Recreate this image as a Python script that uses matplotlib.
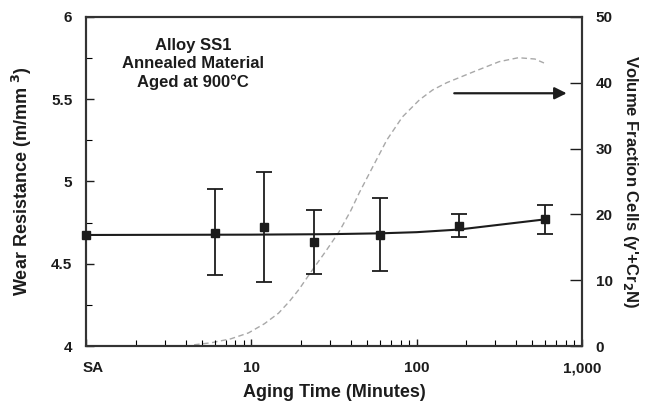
import matplotlib
matplotlib.use("Agg")
import matplotlib.pyplot as plt
import matplotlib.transforms as mtransforms
from matplotlib.ticker import FixedLocator, LogLocator, NullFormatter

plt.rcParams["font.family"] = ["Liberation Sans", "DejaVu Sans"]
plt.rcParams["font.weight"] = "bold"

INK = "#1c1c1c"

# wear resistance measurements (aging time in minutes, SA plotted at 1)
wear_time = [1, 6, 12, 24, 60, 180, 600]
wear_mean = [4.675, 4.69, 4.725, 4.63, 4.675, 4.73, 4.77]
wear_low = [4.675, 4.43, 4.39, 4.44, 4.455, 4.66, 4.68]
wear_high = [4.675, 4.955, 5.06, 4.825, 4.90, 4.80, 4.86]

# fitted trend through the wear data
fit_time = [1, 10, 30, 60, 100, 180, 600]
fit_val = [4.675, 4.677, 4.680, 4.685, 4.692, 4.708, 4.77]

# volume fraction of cells, right axis
vf_time = [4.5, 5.7, 7.5, 9.6, 12, 14.6, 17, 19.4, 23, 28, 34, 40, 45, 55, 66, 82,
           104, 125, 152, 218, 316, 413, 520, 590]
vf_val = [0.2, 0.5, 1.1, 2.0, 3.4, 5.0, 6.8, 8.6, 11.3, 14.3, 17.4, 20.6, 23.3, 27.5,
          31.3, 34.8, 37.4, 38.9, 40.0, 41.6, 43.2, 43.8, 43.6, 43.0]

x_ticks = [1, 10, 100, 1000]
x_labels = ["SA", "10", "100", "1,000"]
left_ticks = [4, 4.5, 5, 5.5, 6]
left_labels = ["4", "4.5", "5", "5.5", "6"]
right_ticks = [0, 10, 20, 30, 40, 50]

fig = plt.figure(figsize=(6.53, 4.12), dpi=100)
ax = fig.add_axes([0.132, 0.160, 0.759, 0.799])
ax2 = ax.twinx()

ax.set_xscale("log")
ax.set_xlim(1, 1000)
ax.set_ylim(4, 6)
ax2.set_ylim(0, 50)

ax2.plot(vf_time, vf_val, color="#a8a8a8", lw=1.0, dashes=(4, 2.5))

ax.plot(fit_time, fit_val, color=INK, lw=1.5, zorder=3)
err_lo = [m - l for m, l in zip(wear_mean[1:], wear_low[1:])]
err_hi = [h - m for m, h in zip(wear_mean[1:], wear_high[1:])]
ax.errorbar(wear_time[1:], wear_mean[1:], yerr=[err_lo, err_hi], fmt="s", color=INK,
            ms=6, capsize=6, elinewidth=1.3, capthick=1.3, zorder=4)
ax.plot(wear_time[:1], wear_mean[:1], "s", color=INK, ms=6, zorder=5, clip_on=False)
ax.set_zorder(ax2.get_zorder() + 1)
ax.patch.set_visible(False)

ax.set_xticks(x_ticks)
ax.set_xticklabels(x_labels)
ax.xaxis.set_minor_locator(LogLocator(base=10, subs=range(2, 10)))
ax.xaxis.set_minor_formatter(NullFormatter())
ax.set_yticks(left_ticks)
ax.set_yticklabels(left_labels)
ax.yaxis.set_minor_locator(FixedLocator([4.25, 4.75, 5.25, 5.75]))
ax2.set_yticks(right_ticks)

ax.tick_params(axis="x", which="major", direction="in", length=5, width=1, pad=11,
               labelsize=11, colors=INK)
ax.tick_params(axis="x", which="minor", direction="in", length=4, width=0.8)
ax.tick_params(axis="y", which="major", direction="in", length=6, width=1, pad=10,
               labelsize=11, colors=INK)
ax.tick_params(axis="y", which="minor", direction="in", length=4, width=0.8)
ax2.tick_params(axis="y", direction="in", length=9, width=1, pad=10,
                labelsize=11, colors=INK)

first = ax.get_xticklabels()[0]
first.set_horizontalalignment("left")
first.set_transform(first.get_transform() + mtransforms.ScaledTranslation(-4 / 100, 0, fig.dpi_scale_trans))

for a in (ax, ax2):
    for s in a.spines.values():
        s.set_linewidth(1.5)
        s.set_color("#333333")

ax.set_xlabel("Aging Time (Minutes)", fontsize=13, fontweight="bold", color=INK, labelpad=6)
ax.set_ylabel("Wear Resistance (m/mm $^3$)", fontsize=13, fontweight="bold", color=INK, labelpad=12)
ax2.set_ylabel("Volume Fraction Cells (γ'+Cr$_2$N)", fontsize=12,
               fontweight="bold", color=INK, rotation=270, labelpad=20)

ax.text(0.215, 0.935, "Alloy SS1\nAnnealed Material\nAged at 900°C", transform=ax.transAxes,
        ha="center", va="top", fontsize=12, fontweight="bold", color=INK, linespacing=1.25)

ax2.annotate("", xy=(0.975, 38.4), xytext=(0.737, 38.4),
             xycoords=("axes fraction", "data"), textcoords=("axes fraction", "data"),
             arrowprops=dict(arrowstyle="-|>", color=INK, lw=1.6, mutation_scale=18))

fig.savefig("out.png", dpi=100)
